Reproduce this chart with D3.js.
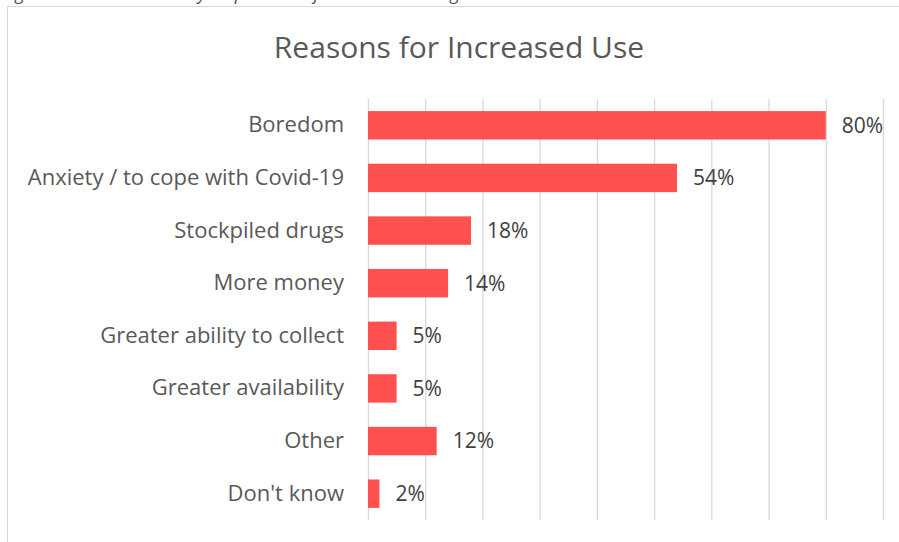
<!DOCTYPE html>
<html>
<head>
<meta charset="utf-8">
<script src="https://cdn.jsdelivr.net/npm/d3@7"></script>
<style>
  html, body { margin: 0; padding: 0; background: #fff; }
  svg { display: block; }
</style>
</head>
<body>
<svg id="chart" width="899" height="542"></svg>
<script>
// Reasons given for increased use, share of respondents (%)
const categories = [
  "Boredom",
  "Anxiety / to cope with Covid-19",
  "Stockpiled drugs",
  "More money",
  "Greater ability to collect",
  "Greater availability",
  "Other",
  "Don't know"
];
const values = [80, 54, 18, 14, 5, 5, 12, 2];
const tickValues = [0, 10, 20, 30, 40, 50, 60, 70, 80, 90];
const chartTitle = "Reasons for Increased Use";
const caption = "Figure 6: Reasons cited by respondents for increased drug use";

const svg = d3.select("#chart");
const W = 899, H = 542;
const margin = { top: 99, right: 16, bottom: 22, left: 368 };
const font = "'Open Sans', 'Noto Sans', sans-serif";

// Caption line above the chart frame (runs off the top of the page)
svg.append("text")
  .attr("x", 2).attr("y", 0)
  .attr("font-family", font).attr("font-style", "italic")
  .attr("font-size", 18).attr("fill", "#44546a")
  .text(caption);

// Chart frame
svg.append("rect")
  .attr("x", 7.5).attr("y", 6.5)
  .attr("width", W + 10).attr("height", H + 10)
  .attr("fill", "#fff").attr("stroke", "#d9d9d9").attr("stroke-width", 1);

const x = d3.scaleLinear().domain([0, 90]).range([margin.left, 883]);
const y = d3.scaleBand().domain(categories).range([margin.top, H - margin.bottom]).paddingInner(0.46).paddingOuter(0.23);

// Vertical gridlines
svg.append("g")
  .attr("transform", `translate(0,${margin.top})`)
  .call(d3.axisBottom(x).tickValues(tickValues).tickSize(H - margin.bottom - margin.top).tickFormat(""))
  .call(g => g.select(".domain").remove())
  .call(g => g.selectAll(".tick line").attr("stroke", "#d9d9d9").attr("stroke-width", 1.3));

// Title
svg.append("text")
  .attr("x", 459).attr("y", 58)
  .attr("text-anchor", "middle")
  .attr("font-family", font).attr("font-size", 30)
  .attr("fill", "#595959")
  .text(chartTitle);

// Category labels
svg.append("g")
  .attr("transform", `translate(${margin.left},0)`)
  .call(d3.axisLeft(y).tickSize(0).tickPadding(24))
  .call(g => g.select(".domain").remove())
  .call(g => g.selectAll("text")
    .attr("font-family", font).attr("font-size", 22).attr("fill", "#595959"));

const data = categories.map((c, i) => ({ c, v: values[i] }));

// Bars
svg.append("g").selectAll("rect").data(data).join("rect")
  .attr("x", x(0))
  .attr("y", d => y(d.c))
  .attr("width", d => x(d.v) - x(0))
  .attr("height", y.bandwidth())
  .attr("fill", "#ff5050");

// Value labels
svg.append("g").selectAll("text").data(data).join("text")
  .attr("x", d => x(d.v) + 16)
  .attr("y", d => y(d.c) + y.bandwidth() / 2)
  .attr("dy", "0.35em")
  .attr("font-family", font).attr("font-size", 21).attr("fill", "#404040")
  .text(d => d.v + "%");
</script>
</body>
</html>
